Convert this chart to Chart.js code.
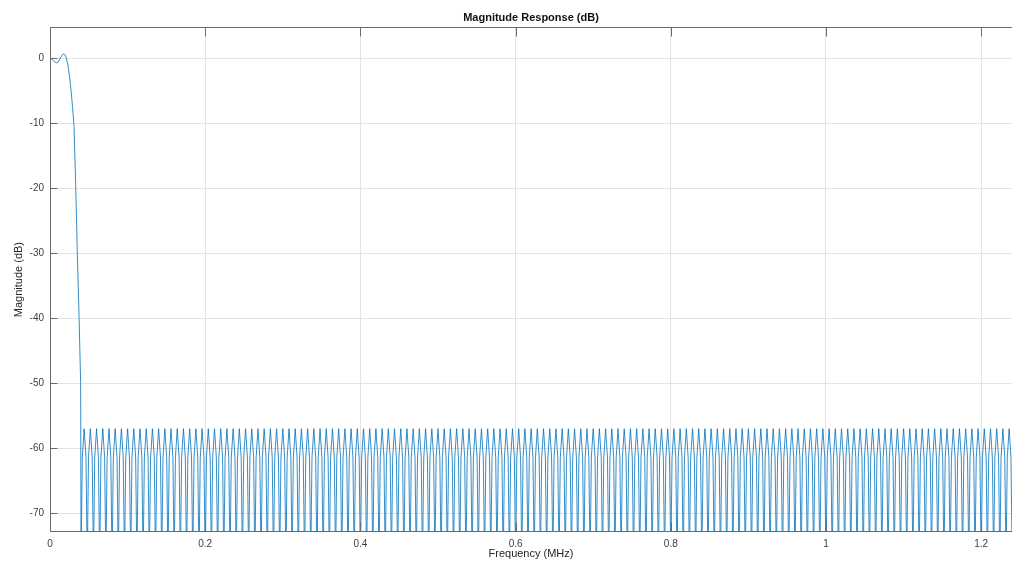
<!DOCTYPE html>
<html>
<head>
<meta charset="utf-8">
<script src="https://cdn.jsdelivr.net/npm/chart.js@4.4.1/dist/chart.umd.min.js"></script>
<style>
html,body{margin:0;padding:0;background:#fff;}
canvas{display:block;}
</style>
</head>
<body>
<canvas id="magChart" width="1012" height="566"></canvas>
<script>
// passband and transition band (MHz / dB)
const passFreq=[0,0.004,0.008,0.011,0.014,0.017,0.019,0.021,0.023,0.025,0.027,0.029,0.031,0.033,0.035,0.0375,0.0395];
const passDb=[0.1,-0.3,-0.7,-0.5,0.2,0.7,0.6,0.1,-1.0,-2.6,-4.8,-7.4,-10.5,-19,-29,-40,-50];

// stopband ripples: null (below the axis), shoulder, peak (~-57 dB), shoulder
const stopFreq=[
0.0400,0.0416,0.0440,0.0464,0.0480,0.0496,0.0520,0.0544,0.0560,0.0576,0.0600,0.0624,0.0640,0.0656,0.0680,0.0704,0.0720,0.0736,0.0760,0.0784,
0.0800,0.0816,0.0840,0.0864,0.0880,0.0896,0.0920,0.0944,0.0960,0.0976,0.1000,0.1024,0.1040,0.1056,0.1080,0.1104,0.1120,0.1136,0.1160,0.1184,
0.1200,0.1216,0.1240,0.1264,0.1280,0.1296,0.1320,0.1344,0.1360,0.1376,0.1400,0.1424,0.1440,0.1456,0.1480,0.1504,0.1520,0.1536,0.1560,0.1584,
0.1600,0.1616,0.1640,0.1664,0.1680,0.1696,0.1720,0.1744,0.1760,0.1776,0.1800,0.1824,0.1840,0.1856,0.1880,0.1904,0.1920,0.1936,0.1960,0.1984,
0.2000,0.2016,0.2040,0.2064,0.2080,0.2096,0.2120,0.2144,0.2160,0.2176,0.2200,0.2224,0.2240,0.2256,0.2280,0.2304,0.2320,0.2336,0.2360,0.2384,
0.2400,0.2416,0.2440,0.2464,0.2480,0.2496,0.2520,0.2544,0.2560,0.2576,0.2600,0.2624,0.2640,0.2656,0.2680,0.2704,0.2720,0.2736,0.2760,0.2784,
0.2800,0.2816,0.2840,0.2864,0.2880,0.2896,0.2920,0.2944,0.2960,0.2976,0.3000,0.3024,0.3040,0.3056,0.3080,0.3104,0.3120,0.3136,0.3160,0.3184,
0.3200,0.3216,0.3240,0.3264,0.3280,0.3296,0.3320,0.3344,0.3360,0.3376,0.3400,0.3424,0.3440,0.3456,0.3480,0.3504,0.3520,0.3536,0.3560,0.3584,
0.3600,0.3616,0.3640,0.3664,0.3680,0.3696,0.3720,0.3744,0.3760,0.3776,0.3800,0.3824,0.3840,0.3856,0.3880,0.3904,0.3920,0.3936,0.3960,0.3984,
0.4000,0.4016,0.4040,0.4064,0.4080,0.4096,0.4120,0.4144,0.4160,0.4176,0.4200,0.4224,0.4240,0.4256,0.4280,0.4304,0.4320,0.4336,0.4360,0.4384,
0.4400,0.4416,0.4440,0.4464,0.4480,0.4496,0.4520,0.4544,0.4560,0.4576,0.4600,0.4624,0.4640,0.4656,0.4680,0.4704,0.4720,0.4736,0.4760,0.4784,
0.4800,0.4816,0.4840,0.4864,0.4880,0.4896,0.4920,0.4944,0.4960,0.4976,0.5000,0.5024,0.5040,0.5056,0.5080,0.5104,0.5120,0.5136,0.5160,0.5184,
0.5200,0.5216,0.5240,0.5264,0.5280,0.5296,0.5320,0.5344,0.5360,0.5376,0.5400,0.5424,0.5440,0.5456,0.5480,0.5504,0.5520,0.5536,0.5560,0.5584,
0.5600,0.5616,0.5640,0.5664,0.5680,0.5696,0.5720,0.5744,0.5760,0.5776,0.5800,0.5824,0.5840,0.5856,0.5880,0.5904,0.5920,0.5936,0.5960,0.5984,
0.6000,0.6016,0.6040,0.6064,0.6080,0.6096,0.6120,0.6144,0.6160,0.6176,0.6200,0.6224,0.6240,0.6256,0.6280,0.6304,0.6320,0.6336,0.6360,0.6384,
0.6400,0.6416,0.6440,0.6464,0.6480,0.6496,0.6520,0.6544,0.6560,0.6576,0.6600,0.6624,0.6640,0.6656,0.6680,0.6704,0.6720,0.6736,0.6760,0.6784,
0.6800,0.6816,0.6840,0.6864,0.6880,0.6896,0.6920,0.6944,0.6960,0.6976,0.7000,0.7024,0.7040,0.7056,0.7080,0.7104,0.7120,0.7136,0.7160,0.7184,
0.7200,0.7216,0.7240,0.7264,0.7280,0.7296,0.7320,0.7344,0.7360,0.7376,0.7400,0.7424,0.7440,0.7456,0.7480,0.7504,0.7520,0.7536,0.7560,0.7584,
0.7600,0.7616,0.7640,0.7664,0.7680,0.7696,0.7720,0.7744,0.7760,0.7776,0.7800,0.7824,0.7840,0.7856,0.7880,0.7904,0.7920,0.7936,0.7960,0.7984,
0.8000,0.8016,0.8040,0.8064,0.8080,0.8096,0.8120,0.8144,0.8160,0.8176,0.8200,0.8224,0.8240,0.8256,0.8280,0.8304,0.8320,0.8336,0.8360,0.8384,
0.8400,0.8416,0.8440,0.8464,0.8480,0.8496,0.8520,0.8544,0.8560,0.8576,0.8600,0.8624,0.8640,0.8656,0.8680,0.8704,0.8720,0.8736,0.8760,0.8784,
0.8800,0.8816,0.8840,0.8864,0.8880,0.8896,0.8920,0.8944,0.8960,0.8976,0.9000,0.9024,0.9040,0.9056,0.9080,0.9104,0.9120,0.9136,0.9160,0.9184,
0.9200,0.9216,0.9240,0.9264,0.9280,0.9296,0.9320,0.9344,0.9360,0.9376,0.9400,0.9424,0.9440,0.9456,0.9480,0.9504,0.9520,0.9536,0.9560,0.9584,
0.9600,0.9616,0.9640,0.9664,0.9680,0.9696,0.9720,0.9744,0.9760,0.9776,0.9800,0.9824,0.9840,0.9856,0.9880,0.9904,0.9920,0.9936,0.9960,0.9984,
1.0000,1.0016,1.0040,1.0064,1.0080,1.0096,1.0120,1.0144,1.0160,1.0176,1.0200,1.0224,1.0240,1.0256,1.0280,1.0304,1.0320,1.0336,1.0360,1.0384,
1.0400,1.0416,1.0440,1.0464,1.0480,1.0496,1.0520,1.0544,1.0560,1.0576,1.0600,1.0624,1.0640,1.0656,1.0680,1.0704,1.0720,1.0736,1.0760,1.0784,
1.0800,1.0816,1.0840,1.0864,1.0880,1.0896,1.0920,1.0944,1.0960,1.0976,1.1000,1.1024,1.1040,1.1056,1.1080,1.1104,1.1120,1.1136,1.1160,1.1184,
1.1200,1.1216,1.1240,1.1264,1.1280,1.1296,1.1320,1.1344,1.1360,1.1376,1.1400,1.1424,1.1440,1.1456,1.1480,1.1504,1.1520,1.1536,1.1560,1.1584,
1.1600,1.1616,1.1640,1.1664,1.1680,1.1696,1.1720,1.1744,1.1760,1.1776,1.1800,1.1824,1.1840,1.1856,1.1880,1.1904,1.1920,1.1936,1.1960,1.1984,
1.2000,1.2016,1.2040,1.2064,1.2080,1.2096,1.2120,1.2144,1.2160,1.2176,1.2200,1.2224,1.2240,1.2256,1.2280,1.2304,1.2320,1.2336,1.2360,1.2384,
1.2400
];
const stopDb=[
-78,-61.5,-57,-61.5,-78,-61.5,-57,-61.5,-78,-61.5,-57,-61.5,-78,-61.5,-57,-61.5,-78,-61.5,-57,-61.5,
-78,-61.5,-57,-61.5,-78,-61.5,-57,-61.5,-78,-61.5,-57,-61.5,-78,-61.5,-57,-61.5,-78,-61.5,-57,-61.5,
-78,-61.5,-57,-61.5,-78,-61.5,-57,-61.5,-78,-61.5,-57,-61.5,-78,-61.5,-57,-61.5,-78,-61.5,-57,-61.5,
-78,-61.5,-57,-61.5,-78,-61.5,-57,-61.5,-78,-61.5,-57,-61.5,-78,-61.5,-57,-61.5,-78,-61.5,-57,-61.5,
-78,-61.5,-57,-61.5,-78,-61.5,-57,-61.5,-78,-61.5,-57,-61.5,-78,-61.5,-57,-61.5,-78,-61.5,-57,-61.5,
-78,-61.5,-57,-61.5,-78,-61.5,-57,-61.5,-78,-61.5,-57,-61.5,-78,-61.5,-57,-61.5,-78,-61.5,-57,-61.5,
-78,-61.5,-57,-61.5,-78,-61.5,-57,-61.5,-78,-61.5,-57,-61.5,-78,-61.5,-57,-61.5,-78,-61.5,-57,-61.5,
-78,-61.5,-57,-61.5,-78,-61.5,-57,-61.5,-78,-61.5,-57,-61.5,-78,-61.5,-57,-61.5,-78,-61.5,-57,-61.5,
-78,-61.5,-57,-61.5,-78,-61.5,-57,-61.5,-78,-61.5,-57,-61.5,-78,-61.5,-57,-61.5,-78,-61.5,-57,-61.5,
-78,-61.5,-57,-61.5,-78,-61.5,-57,-61.5,-78,-61.5,-57,-61.5,-78,-61.5,-57,-61.5,-78,-61.5,-57,-61.5,
-78,-61.5,-57,-61.5,-78,-61.5,-57,-61.5,-78,-61.5,-57,-61.5,-78,-61.5,-57,-61.5,-78,-61.5,-57,-61.5,
-78,-61.5,-57,-61.5,-78,-61.5,-57,-61.5,-78,-61.5,-57,-61.5,-78,-61.5,-57,-61.5,-78,-61.5,-57,-61.5,
-78,-61.5,-57,-61.5,-78,-61.5,-57,-61.5,-78,-61.5,-57,-61.5,-78,-61.5,-57,-61.5,-78,-61.5,-57,-61.5,
-78,-61.5,-57,-61.5,-78,-61.5,-57,-61.5,-78,-61.5,-57,-61.5,-78,-61.5,-57,-61.5,-78,-61.5,-57,-61.5,
-78,-61.5,-57,-61.5,-78,-61.5,-57,-61.5,-78,-61.5,-57,-61.5,-78,-61.5,-57,-61.5,-78,-61.5,-57,-61.5,
-78,-61.5,-57,-61.5,-78,-61.5,-57,-61.5,-78,-61.5,-57,-61.5,-78,-61.5,-57,-61.5,-78,-61.5,-57,-61.5,
-78,-61.5,-57,-61.5,-78,-61.5,-57,-61.5,-78,-61.5,-57,-61.5,-78,-61.5,-57,-61.5,-78,-61.5,-57,-61.5,
-78,-61.5,-57,-61.5,-78,-61.5,-57,-61.5,-78,-61.5,-57,-61.5,-78,-61.5,-57,-61.5,-78,-61.5,-57,-61.5,
-78,-61.5,-57,-61.5,-78,-61.5,-57,-61.5,-78,-61.5,-57,-61.5,-78,-61.5,-57,-61.5,-78,-61.5,-57,-61.5,
-78,-61.5,-57,-61.5,-78,-61.5,-57,-61.5,-78,-61.5,-57,-61.5,-78,-61.5,-57,-61.5,-78,-61.5,-57,-61.5,
-78,-61.5,-57,-61.5,-78,-61.5,-57,-61.5,-78,-61.5,-57,-61.5,-78,-61.5,-57,-61.5,-78,-61.5,-57,-61.5,
-78,-61.5,-57,-61.5,-78,-61.5,-57,-61.5,-78,-61.5,-57,-61.5,-78,-61.5,-57,-61.5,-78,-61.5,-57,-61.5,
-78,-61.5,-57,-61.5,-78,-61.5,-57,-61.5,-78,-61.5,-57,-61.5,-78,-61.5,-57,-61.5,-78,-61.5,-57,-61.5,
-78,-61.5,-57,-61.5,-78,-61.5,-57,-61.5,-78,-61.5,-57,-61.5,-78,-61.5,-57,-61.5,-78,-61.5,-57,-61.5,
-78,-61.5,-57,-61.5,-78,-61.5,-57,-61.5,-78,-61.5,-57,-61.5,-78,-61.5,-57,-61.5,-78,-61.5,-57,-61.5,
-78,-61.5,-57,-61.5,-78,-61.5,-57,-61.5,-78,-61.5,-57,-61.5,-78,-61.5,-57,-61.5,-78,-61.5,-57,-61.5,
-78,-61.5,-57,-61.5,-78,-61.5,-57,-61.5,-78,-61.5,-57,-61.5,-78,-61.5,-57,-61.5,-78,-61.5,-57,-61.5,
-78,-61.5,-57,-61.5,-78,-61.5,-57,-61.5,-78,-61.5,-57,-61.5,-78,-61.5,-57,-61.5,-78,-61.5,-57,-61.5,
-78,-61.5,-57,-61.5,-78,-61.5,-57,-61.5,-78,-61.5,-57,-61.5,-78,-61.5,-57,-61.5,-78,-61.5,-57,-61.5,
-78,-61.5,-57,-61.5,-78,-61.5,-57,-61.5,-78,-61.5,-57,-61.5,-78,-61.5,-57,-61.5,-78,-61.5,-57,-61.5,
-78
];

const xTicks=[0,0.2,0.4,0.6,0.8,1,1.2];
const yTicks=[-70,-60,-50,-40,-30,-20,-10,0];

const freq=passFreq.concat(stopFreq);
const mag=passDb.concat(stopDb);
const points=freq.map((f,i)=>({x:f,y:mag[i]}));

const font="'Liberation Sans', Arial, Helvetica, sans-serif";

// matlab style box with inward ticks
const boxPlugin={
id:"box",
afterDraw(chart){
const {ctx,chartArea:a,scales:{x,y}}=chart;
const L=Math.round(a.left)+0.5,T=Math.round(a.top)+0.5,B=Math.round(a.bottom)-0.5;
ctx.save();
ctx.strokeStyle="#6a6a6a";
ctx.lineWidth=1;
ctx.beginPath();
ctx.moveTo(a.right+2,T);ctx.lineTo(L,T);ctx.lineTo(L,B);ctx.lineTo(a.right+2,B);
yTicks.forEach(v=>{const p=Math.round(y.getPixelForValue(v))+0.5;ctx.moveTo(L,p);ctx.lineTo(L+7,p);});
xTicks.forEach(v=>{const p=Math.round(x.getPixelForValue(v))+0.5;ctx.moveTo(p,B);ctx.lineTo(p,B-9);ctx.moveTo(p,T);ctx.lineTo(p,T+9);});
ctx.stroke();
ctx.restore();
}
};

new Chart(document.getElementById("magChart"),{
type:"line",
data:{
datasets:[{
data:points,
borderColor:"rgba(0,114,189,0.8)",
borderWidth:1,
pointRadius:0,
tension:0,
fill:false
}]
},
options:{
responsive:false,
animation:false,
events:[],
layout:{padding:0},
plugins:{
legend:{display:false},
tooltip:{enabled:false},
title:{
display:true,
fullSize:false,
text:"Magnitude Response (dB)",
color:"#111",
font:{family:font,size:11,weight:"bold"},
padding:{top:11,bottom:3}
}
},
scales:{
x:{
type:"linear",
min:0,
max:1.2397,
afterBuildTicks:s=>{s.ticks=xTicks.map(v=>({value:v}));},
afterFit:s=>{s.height=34;},
grid:{color:"#e3e3e3",drawTicks:false},
border:{display:false},
ticks:{autoSkip:false,maxRotation:0,padding:6,color:"#404040",font:{family:font,size:10},callback:v=>String(v)},
title:{display:true,text:"Frequency (MHz)",color:"#262626",font:{family:font,size:11},padding:{top:0,bottom:5}}
},
y:{
min:-72.9,
max:4.8,
afterBuildTicks:s=>{s.ticks=yTicks.map(v=>({value:v}));},
afterFit:s=>{s.width=50;},
grid:{color:"#e3e3e3",drawTicks:false},
border:{display:false},
ticks:{autoSkip:false,padding:6,color:"#404040",font:{family:font,size:10},callback:v=>String(v)},
title:{display:true,text:"Magnitude (dB)",color:"#262626",font:{family:font,size:11},padding:{top:12,bottom:0}}
}
}
},
plugins:[boxPlugin]
});
</script>
</body>
</html>
